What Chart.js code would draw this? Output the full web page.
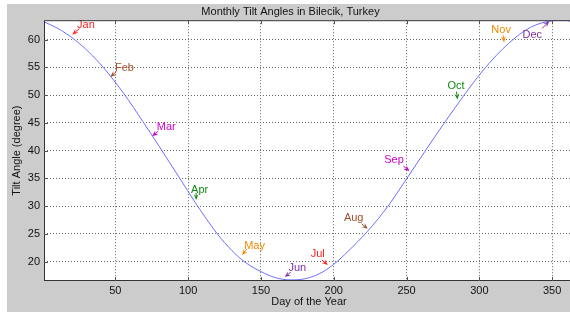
<!DOCTYPE html>
<html>
<head>
<meta charset="utf-8">
<title>Monthly Tilt Angles</title>
<script src="https://cdn.jsdelivr.net/npm/chart.js"></script>
<style>
  html, body { margin: 0; padding: 0; background: #fff; overflow: hidden; width: 570px; height: 312px; }
  #chart { position: absolute; left: 7px; top: 4px; }
</style>
</head>
<body>
<canvas id="chart" width="580" height="308"></canvas>
<script>
// curve (day of year -> tilt angle)
const days = [1, 10, 22, 32, 42, 56, 69, 82, 94, 105, 120, 130, 139, 150, 160, 170, 180, 190, 200, 210, 223, 237, 250, 263, 276, 289, 303, 320, 335, 350, 358, 365];
const tilt = [63.2, 62.1, 60.0, 57.7, 54.9, 50.2, 45.2, 40.0, 35.1, 30.6, 25.0, 22.0, 19.9, 18.2, 17.1, 16.7, 16.9, 17.8, 19.5, 21.9, 25.4, 29.9, 34.9, 40.0, 45.0, 49.8, 54.6, 59.3, 62.2, 63.4, 63.5, 63.2];

// monthly markers
const monthNames = ["Jan", "Feb", "Mar", "Apr", "May", "Jun", "Jul", "Aug", "Sep", "Oct", "Nov", "Dec"];
const monthDays = [20.5, 46.6, 75.3, 105.5, 137, 166.4, 195.9, 223.3, 252, 285, 317, 348];
const monthTilt = [60.9, 53.3, 42.6, 31.1, 21.2, 17.2, 19.4, 25.9, 36.3, 49.2, 59.5, 63.3];

const xTicks = [50, 100, 150, 200, 250, 300, 350];
const yTicks = [20, 25, 30, 35, 40, 45, 50, 55, 60];

// styling for the annotations
const monthColors = ["#ff2020", "#a0502d", "#cc00cc", "#108a10", "#ee8a00", "#8030a0",
                     "#ff2020", "#a0502d", "#cc00cc", "#108a10", "#ee8a00", "#8030a0"];
const labelOffsets = [[13.5, -10], [14, -9], [14, -9], [3.5, -10], [12.5, -9], [12.5, -9],
                      [-10, -11], [-14, -11], [-15.5, -11], [-1.5, -14], [-3, -12], [-17, 14]];
const tailOffsets = [[7, -6], [6, -5], [6, -5], [0, -7], [5, -6], [6, -5],
                     [-6, -5], [-6, -5], [-6, -5], [-1, -8], [-1, -7], [-7, 7]];

const FONT = "Liberation Sans, Arial, sans-serif";

const backdrop = {
  id: "backdrop",
  beforeDraw(chart) {
    const { ctx, chartArea: a } = chart;
    ctx.save();
    ctx.fillStyle = "#cccccc";
    ctx.fillRect(0, 0, chart.width, chart.height);
    ctx.fillStyle = "#ffffff";
    ctx.fillRect(a.left, a.top, a.right - a.left, a.bottom - a.top);
    ctx.restore();
  },
  afterDraw(chart) {
    const { ctx, chartArea: a, scales } = chart;
    ctx.save();
    ctx.strokeStyle = "#333";
    ctx.lineWidth = 1;
    ctx.strokeRect(a.left + 0.5, a.top + 0.5, a.right - a.left - 1, a.bottom - a.top - 1);
    // inward tick marks
    ctx.strokeStyle = "#555";
    ctx.beginPath();
    xTicks.forEach((v) => {
      const px = Math.round(scales.x.getPixelForValue(v)) + 0.5;
      ctx.moveTo(px, a.bottom); ctx.lineTo(px, a.bottom - 4);
      ctx.moveTo(px, a.top); ctx.lineTo(px, a.top + 4);
    });
    yTicks.forEach((v) => {
      const py = Math.round(scales.y.getPixelForValue(v)) + 0.5;
      ctx.moveTo(a.left, py); ctx.lineTo(a.left + 4, py);
    });
    ctx.stroke();
    ctx.restore();
  }
};

const monthArrows = {
  id: "monthArrows",
  afterDatasetsDraw(chart) {
    const { ctx, scales } = chart;
    ctx.save();
    ctx.font = "11px " + FONT;
    ctx.textAlign = "center";
    ctx.textBaseline = "middle";
    monthNames.forEach((name, i) => {
      const tx = scales.x.getPixelForValue(monthDays[i]);
      const ty = scales.y.getPixelForValue(monthTilt[i]);
      const sx = tx + tailOffsets[i][0];
      const sy = ty + tailOffsets[i][1];
      const ang = Math.atan2(ty - sy, tx - sx);
      const head = 6, wing = 2.5;
      ctx.strokeStyle = monthColors[i];
      ctx.fillStyle = monthColors[i];
      ctx.lineWidth = 1;
      ctx.beginPath();
      ctx.moveTo(sx, sy);
      ctx.lineTo(tx - Math.cos(ang) * head * 0.6, ty - Math.sin(ang) * head * 0.6);
      ctx.stroke();
      ctx.beginPath();
      ctx.moveTo(tx, ty);
      ctx.lineTo(tx - Math.cos(ang) * head + Math.sin(ang) * wing, ty - Math.sin(ang) * head - Math.cos(ang) * wing);
      ctx.lineTo(tx - Math.cos(ang) * head * 0.6, ty - Math.sin(ang) * head * 0.6);
      ctx.lineTo(tx - Math.cos(ang) * head - Math.sin(ang) * wing, ty - Math.sin(ang) * head + Math.cos(ang) * wing);
      ctx.closePath();
      ctx.fill();
      ctx.fillText(name, tx + labelOffsets[i][0], ty + labelOffsets[i][1]);
    });
    ctx.restore();
  }
};

new Chart(document.getElementById("chart"), {
  type: "line",
  data: {
    datasets: [{
      data: days.map((d, i) => ({ x: d, y: tilt[i] })),
      borderColor: "#6f6fff",
      borderWidth: 1,
      pointRadius: 0,
      fill: false,
      cubicInterpolationMode: "monotone"
    }]
  },
  options: {
    responsive: false,
    animation: false,
    layout: { padding: { left: 0, right: 13, top: 0, bottom: 0 } },
    plugins: {
      legend: { display: false },
      tooltip: { enabled: false },
      title: {
        display: true,
        text: "Monthly Tilt Angles in Bilecik, Turkey",
        color: "#111",
        font: { family: FONT, size: 11, weight: "normal" },
        padding: { top: 1, bottom: 2 }
      }
    },
    scales: {
      x: {
        type: "linear",
        min: 1,
        max: 365,
        afterBuildTicks: (s) => { s.ticks = xTicks.map((v) => ({ value: v })); },
        afterFit: (s) => { s.height = 31; },
        ticks: { color: "#111", font: { family: FONT, size: 11 }, padding: 3, maxRotation: 0 },
        grid: { color: "#666", drawTicks: false, borderDash: [1, 2] },
        border: { display: false, dash: [1, 2] },
        title: {
          display: true,
          text: "Day of the Year",
          color: "#111",
          font: { family: FONT, size: 11 },
          padding: { top: 0, bottom: 3 }
        }
      },
      y: {
        min: 16.5,
        max: 63.5,
        afterBuildTicks: (s) => { s.ticks = yTicks.map((v) => ({ value: v })); },
        afterFit: (s) => { s.width = 37; },
        ticks: { color: "#111", font: { family: FONT, size: 11 }, padding: 4 },
        grid: { color: "#666", drawTicks: false, borderDash: [1, 2] },
        border: { display: false, dash: [1, 2] },
        title: {
          display: true,
          text: "Tilt Angle (degree)",
          color: "#111",
          font: { family: FONT, size: 11 },
          padding: { top: 3, bottom: 0 }
        }
      }
    }
  },
  plugins: [backdrop, monthArrows]
});
</script>
</body>
</html>
